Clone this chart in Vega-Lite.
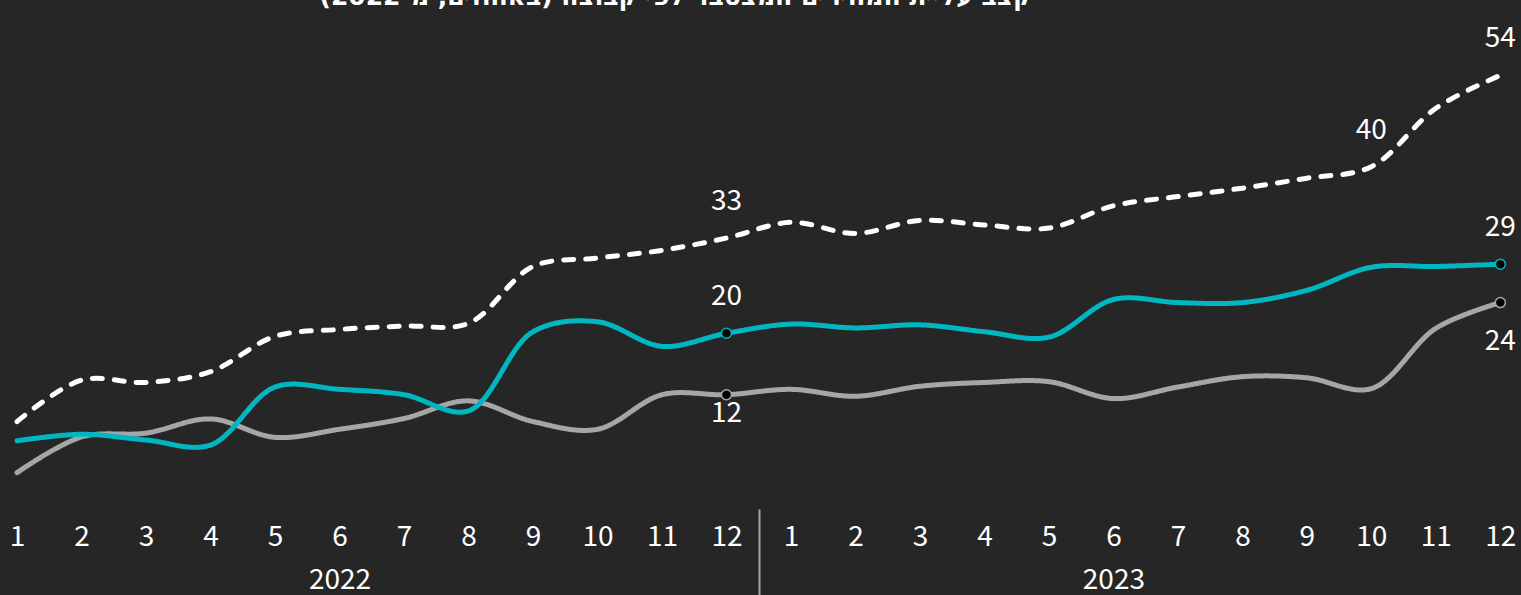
{
  "$schema": "https://vega.github.io/schema/vega-lite/v6.json",
  "width": 1521,
  "height": 509,
  "autosize": "none",
  "padding": {"left": 0, "right": 0, "top": 0, "bottom": 86},
  "background": "#262626",
  "title": {
    "text": "קצב עליית המחירים המצטבר לפי קבוצה (באחוזים, מ-2022)",
    "font": "DejaVu Sans",
    "fontSize": 25,
    "fontWeight": "bold",
    "color": "#ffffff",
    "anchor": "middle",
    "dx": -85,
    "offset": -30,
    "baseline": "alphabetic"
  },
  "config": {
    "view": {"stroke": null},
    "axis": {
      "labelFont": "Noto Sans CJK SC",
      "labelColor": "#ffffff",
      "labelFontSize": 28,
      "labelFontWeight": "normal",
      "grid": false,
      "domain": false,
      "title": null,
      "labelOverlap": false,
      "labelFlush": false
    },
    "text": {"font": "Noto Sans CJK SC", "fontSize": 28, "color": "#ffffff", "baseline": "middle", "align": "center"}
  },
  "datasets": {
    "series": [
      {"idx": 1, "year": 2022, "month": 1, "series": "total", "value": 8.5},
      {"idx": 2, "year": 2022, "month": 2, "series": "total", "value": 13.9},
      {"idx": 3, "year": 2022, "month": 3, "series": "total", "value": 13.6},
      {"idx": 4, "year": 2022, "month": 4, "series": "total", "value": 15.0},
      {"idx": 5, "year": 2022, "month": 5, "series": "total", "value": 19.6},
      {"idx": 6, "year": 2022, "month": 6, "series": "total", "value": 20.5},
      {"idx": 7, "year": 2022, "month": 7, "series": "total", "value": 20.95},
      {"idx": 8, "year": 2022, "month": 8, "series": "total", "value": 21.3},
      {"idx": 9, "year": 2022, "month": 9, "series": "total", "value": 28.7},
      {"idx": 10, "year": 2022, "month": 10, "series": "total", "value": 29.8},
      {"idx": 11, "year": 2022, "month": 11, "series": "total", "value": 30.8},
      {"idx": 12, "year": 2022, "month": 12, "series": "total", "value": 32.4},
      {"idx": 13, "year": 2023, "month": 1, "series": "total", "value": 34.45},
      {"idx": 14, "year": 2023, "month": 2, "series": "total", "value": 33.0},
      {"idx": 15, "year": 2023, "month": 3, "series": "total", "value": 34.7},
      {"idx": 16, "year": 2023, "month": 4, "series": "total", "value": 34.1},
      {"idx": 17, "year": 2023, "month": 5, "series": "total", "value": 33.7},
      {"idx": 18, "year": 2023, "month": 6, "series": "total", "value": 36.6},
      {"idx": 19, "year": 2023, "month": 7, "series": "total", "value": 37.8},
      {"idx": 20, "year": 2023, "month": 8, "series": "total", "value": 38.9},
      {"idx": 21, "year": 2023, "month": 9, "series": "total", "value": 40.2},
      {"idx": 22, "year": 2023, "month": 10, "series": "total", "value": 41.7},
      {"idx": 23, "year": 2023, "month": 11, "series": "total", "value": 49.3},
      {"idx": 24, "year": 2023, "month": 12, "series": "total", "value": 53.6},
      {"idx": 1, "year": 2022, "month": 1, "series": "grey", "value": 1.85},
      {"idx": 2, "year": 2022, "month": 2, "series": "grey", "value": 6.5},
      {"idx": 3, "year": 2022, "month": 3, "series": "grey", "value": 7.0},
      {"idx": 4, "year": 2022, "month": 4, "series": "grey", "value": 8.85},
      {"idx": 5, "year": 2022, "month": 5, "series": "grey", "value": 6.45},
      {"idx": 6, "year": 2022, "month": 6, "series": "grey", "value": 7.5},
      {"idx": 7, "year": 2022, "month": 7, "series": "grey", "value": 8.9},
      {"idx": 8, "year": 2022, "month": 8, "series": "grey", "value": 11.2},
      {"idx": 9, "year": 2022, "month": 9, "series": "grey", "value": 8.5},
      {"idx": 10, "year": 2022, "month": 10, "series": "grey", "value": 7.5},
      {"idx": 11, "year": 2022, "month": 11, "series": "grey", "value": 12.0},
      {"idx": 12, "year": 2022, "month": 12, "series": "grey", "value": 12.0},
      {"idx": 13, "year": 2023, "month": 1, "series": "grey", "value": 12.7},
      {"idx": 14, "year": 2023, "month": 2, "series": "grey", "value": 11.8},
      {"idx": 15, "year": 2023, "month": 3, "series": "grey", "value": 13.1},
      {"idx": 16, "year": 2023, "month": 4, "series": "grey", "value": 13.6},
      {"idx": 17, "year": 2023, "month": 5, "series": "grey", "value": 13.7},
      {"idx": 18, "year": 2023, "month": 6, "series": "grey", "value": 11.5},
      {"idx": 19, "year": 2023, "month": 7, "series": "grey", "value": 13.0},
      {"idx": 20, "year": 2023, "month": 8, "series": "grey", "value": 14.35},
      {"idx": 21, "year": 2023, "month": 9, "series": "grey", "value": 14.2},
      {"idx": 22, "year": 2023, "month": 10, "series": "grey", "value": 12.8},
      {"idx": 23, "year": 2023, "month": 11, "series": "grey", "value": 20.65},
      {"idx": 24, "year": 2023, "month": 12, "series": "grey", "value": 24.0},
      {"idx": 1, "year": 2022, "month": 1, "series": "teal", "value": 6.0},
      {"idx": 2, "year": 2022, "month": 2, "series": "teal", "value": 6.85},
      {"idx": 3, "year": 2022, "month": 3, "series": "teal", "value": 6.1},
      {"idx": 4, "year": 2022, "month": 4, "series": "teal", "value": 5.45},
      {"idx": 5, "year": 2022, "month": 5, "series": "teal", "value": 13.0},
      {"idx": 6, "year": 2022, "month": 6, "series": "teal", "value": 12.7},
      {"idx": 7, "year": 2022, "month": 7, "series": "teal", "value": 12.0},
      {"idx": 8, "year": 2022, "month": 8, "series": "teal", "value": 9.9},
      {"idx": 9, "year": 2022, "month": 9, "series": "teal", "value": 20.2},
      {"idx": 10, "year": 2022, "month": 10, "series": "teal", "value": 21.5},
      {"idx": 11, "year": 2022, "month": 11, "series": "teal", "value": 18.3},
      {"idx": 12, "year": 2022, "month": 12, "series": "teal", "value": 20.0},
      {"idx": 13, "year": 2023, "month": 1, "series": "teal", "value": 21.2},
      {"idx": 14, "year": 2023, "month": 2, "series": "teal", "value": 20.7},
      {"idx": 15, "year": 2023, "month": 3, "series": "teal", "value": 21.1},
      {"idx": 16, "year": 2023, "month": 4, "series": "teal", "value": 20.2},
      {"idx": 17, "year": 2023, "month": 5, "series": "teal", "value": 19.5},
      {"idx": 18, "year": 2023, "month": 6, "series": "teal", "value": 24.4},
      {"idx": 19, "year": 2023, "month": 7, "series": "teal", "value": 24.0},
      {"idx": 20, "year": 2023, "month": 8, "series": "teal", "value": 24.0},
      {"idx": 21, "year": 2023, "month": 9, "series": "teal", "value": 25.6},
      {"idx": 22, "year": 2023, "month": 10, "series": "teal", "value": 28.6},
      {"idx": 23, "year": 2023, "month": 11, "series": "teal", "value": 28.7},
      {"idx": 24, "year": 2023, "month": 12, "series": "teal", "value": 29.0}
    ],
    "labels": [
      {"idx": 12, "series": "total", "value": 32.4, "text": "33", "place": "above"},
      {"idx": 12, "series": "teal", "value": 20.0, "text": "20", "place": "above"},
      {"idx": 12, "series": "grey", "value": 12.0, "text": "12", "place": "below"},
      {"idx": 22, "series": "total", "value": 41.7, "text": "40", "place": "above"},
      {"idx": 24, "series": "total", "value": 53.6, "text": "54", "place": "above"},
      {"idx": 24, "series": "teal", "value": 29.0, "text": "29", "place": "above"},
      {"idx": 24, "series": "grey", "value": 24.0, "text": "24", "place": "below far"}
    ]
  },
  "resolve": {"axis": {"x": "independent"}},
  "layer": [
    {
      "data": {"name": "series"},
      "mark": {"type": "line", "interpolate": "catmull-rom", "strokeWidth": 5, "strokeCap": "round"},
      "encoding": {
        "x": {
          "field": "idx", "type": "quantitative",
          "scale": {"domain": [0.736, 24.32], "nice": false, "zero": false},
          "axis": {
            "orient": "bottom",
            "values": [1, 2, 3, 4, 5, 6, 7, 8, 9, 10, 11, 12, 13, 14, 15, 16, 17, 18, 19, 20, 21, 22, 23, 24],
            "labelExpr": "datum.value > 12 ? datum.value - 12 : datum.value",
            "ticks": false,
            "labelBaseline": "middle",
            "labelPadding": 28
          }
        },
        "y": {
          "field": "value", "type": "quantitative",
          "scale": {"domain": [-2.88, 63.4], "nice": false, "zero": false},
          "axis": null
        },
        "color": {
          "field": "series", "type": "nominal",
          "scale": {"domain": ["total", "grey", "teal"], "range": ["#ffffff", "#a6a6a6", "#00b6c1"]},
          "legend": null
        },
        "strokeDash": {
          "field": "series", "type": "nominal",
          "scale": {"domain": ["total", "grey", "teal"], "range": [[10, 12], [1, 0], [1, 0]]},
          "legend": null
        },
        "order": {"field": "idx", "type": "quantitative"}
      }
    },
    {
      "data": {"name": "series"},
      "transform": [{"filter": "(datum.idx == 12 || datum.idx == 24) && datum.series != 'total'"}],
      "mark": {"type": "point", "shape": "circle", "filled": false, "fill": "#000000", "fillOpacity": 1, "size": 100, "strokeWidth": 1.5},
      "encoding": {
        "x": {
          "field": "idx", "type": "quantitative",
          "axis": {
            "orient": "bottom",
            "values": [6, 18],
            "labelExpr": "datum.value < 12 ? '2022' : '2023'",
            "ticks": false,
            "labelBaseline": "middle",
            "labelPadding": 71
          }
        },
        "y": {"field": "value", "type": "quantitative"},
        "stroke": {
          "field": "series", "type": "nominal",
          "scale": {"domain": ["total", "grey", "teal"], "range": ["#ffffff", "#a6a6a6", "#00b6c1"]},
          "legend": null
        }
      }
    },
    {
      "data": {"name": "labels"},
      "transform": [{"filter": "datum.place == 'above'"}],
      "mark": {"type": "text", "dy": -36},
      "encoding": {
        "x": {
          "field": "idx", "type": "quantitative",
          "axis": {
            "orient": "bottom",
            "values": [12.5],
            "labels": false,
            "ticks": true,
            "tickSize": 90,
            "tickWidth": 2,
            "tickColor": "#a6a6a6"
          }
        },
        "y": {"field": "value", "type": "quantitative"},
        "text": {"field": "text"}
      }
    },
    {
      "data": {"name": "labels"},
      "transform": [{"filter": "datum.place == 'below'"}],
      "mark": {"type": "text", "dy": 19},
      "encoding": {
        "x": {"field": "idx", "type": "quantitative", "axis": null},
        "y": {"field": "value", "type": "quantitative"},
        "text": {"field": "text"}
      }
    },
    {
      "data": {"name": "labels"},
      "transform": [{"filter": "datum.place == 'below far'"}],
      "mark": {"type": "text", "dy": 39},
      "encoding": {
        "x": {"field": "idx", "type": "quantitative", "axis": null},
        "y": {"field": "value", "type": "quantitative"},
        "text": {"field": "text"}
      }
    }
  ]
}
